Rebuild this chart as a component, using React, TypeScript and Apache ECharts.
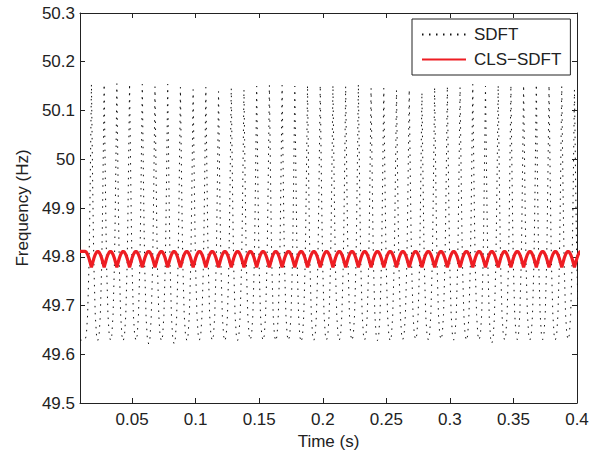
import { useEffect, useRef } from "react";
import * as echarts from "echarts";

// Times (s) of each oscillation cycle centre (SDFT peak / CLS-SDFT dip)
const cycleTimes = [
  0.018, 0.028, 0.038, 0.048, 0.058, 0.068, 0.078, 0.088, 0.098, 0.108,
  0.118, 0.128, 0.138, 0.148, 0.158, 0.168, 0.178, 0.188, 0.198, 0.208,
  0.218, 0.228, 0.238, 0.248, 0.258, 0.268, 0.278, 0.288, 0.298, 0.308,
  0.318, 0.328, 0.338, 0.348, 0.358, 0.368, 0.378, 0.388, 0.398,
];

// SDFT estimate: peak of each cycle (Hz)
const sdftPeaks = [
  50.154, 50.154, 50.155, 50.155, 50.154, 50.149, 50.154, 50.148, 50.143, 50.148,
  50.139, 50.146, 50.143, 50.15, 50.152, 50.152, 50.15, 50.152, 50.152, 50.152,
  50.15, 50.154, 50.146, 50.146, 50.142, 50.143, 50.137, 50.148, 50.15, 50.148,
  50.154, 50.15, 50.152, 50.152, 50.152, 50.154, 50.152, 50.15, 50.143,
];
// SDFT estimate: troughs between cycles (Hz)
const sdftTroughs = [
  49.629, 49.628, 49.628, 49.627, 49.628, 49.621, 49.627, 49.621, 49.628, 49.629,
  49.628, 49.627, 49.628, 49.629, 49.628, 49.627, 49.628, 49.625, 49.628, 49.629,
  49.628, 49.628, 49.629, 49.628, 49.627, 49.63, 49.63, 49.629, 49.63, 49.629,
  49.628, 49.629, 49.622, 49.629, 49.63, 49.629, 49.63, 49.629, 49.63, 49.63,
];
// Shape of one SDFT cycle (time offset, relative level)
const sdftShapeOffsets = [-0.005, -0.004, -0.003, -0.002, -0.0015, -0.001, -0.0005, 0, 0.0005, 0.001, 0.0015, 0.002, 0.003, 0.004];
const sdftShapeLevels = [0, 0.02, 0.1, 0.28, 0.42, 0.6, 0.8, 1, 0.8, 0.6, 0.42, 0.28, 0.1, 0.02];

// CLS-SDFT estimate: upper and lower level of each cycle (Hz)
const clsPeaks = [
  49.811, 49.811, 49.811, 49.811, 49.811, 49.811, 49.811, 49.811, 49.811, 49.811,
  49.811, 49.811, 49.811, 49.811, 49.811, 49.811, 49.811, 49.811, 49.811, 49.811,
  49.811, 49.811, 49.811, 49.811, 49.811, 49.811, 49.811, 49.811, 49.811, 49.811,
  49.811, 49.811, 49.811, 49.811, 49.811, 49.811, 49.811, 49.811, 49.811,
];
const clsTroughs = [
  49.778, 49.778, 49.778, 49.778, 49.778, 49.778, 49.778, 49.778, 49.778, 49.778,
  49.778, 49.778, 49.778, 49.778, 49.778, 49.778, 49.778, 49.778, 49.778, 49.778,
  49.778, 49.778, 49.778, 49.778, 49.778, 49.778, 49.778, 49.778, 49.778, 49.778,
  49.778, 49.778, 49.778, 49.778, 49.778, 49.778, 49.778, 49.778, 49.778,
];
const clsShapeOffsets = [-0.005, -0.004, -0.003, -0.002, -0.001, 0, 0.001, 0.002, 0.003, 0.004];
const clsShapeLevels = [1, 0.95, 0.81, 0.59, 0.31, 0, 0.31, 0.59, 0.81, 0.95];

const xTicks = [0.05, 0.1, 0.15, 0.2, 0.25, 0.3, 0.35, 0.4];
const xMin = 0.009;
const xMax = 0.4;
const yMin = 49.5;
const yMax = 50.3;
const yStep = 0.1;

const seriesNames = ["SDFT", "CLS\u2212SDFT"];
const axisTitles = { x: "Time (s)", y: "Frequency (Hz)" };

function buildSdft(): [number, number][] {
  const out: [number, number][] = [[xMin, sdftTroughs[0]]];
  cycleTimes.forEach((t, k) => {
    sdftShapeOffsets.forEach((o, i) => {
      const base = o < 0 ? sdftTroughs[k] : sdftTroughs[k + 1];
      out.push([t + o, base + sdftShapeLevels[i] * (sdftPeaks[k] - base)]);
    });
  });
  const last = cycleTimes.length - 1;
  out.push([cycleTimes[last] + 0.005, sdftTroughs[last + 1]]);
  return out;
}

function buildCls(): [number, number][] {
  const out: [number, number][] = [[xMin, clsPeaks[0]]];
  cycleTimes.forEach((t, k) => {
    clsShapeOffsets.forEach((o, i) => {
      out.push([t + o, clsTroughs[k] + clsShapeLevels[i] * (clsPeaks[k] - clsTroughs[k])]);
    });
  });
  const last = cycleTimes.length - 1;
  out.push([cycleTimes[last] + 0.005, clsPeaks[last]]);
  return out;
}

const FONT = "'Liberation Sans', Arial, Helvetica, sans-serif";
const INK = "#222";

export default function App() {
  const ref = useRef<HTMLDivElement>(null);
  useEffect(() => {
    document.body.style.margin = "0";
    if (!ref.current) return;
    const chart = echarts.init(ref.current, null, { renderer: "svg" });
    const axisLine = { show: true, onZero: false, lineStyle: { color: INK, width: 1 } };
    const tick = { show: true, inside: true, length: 5, lineStyle: { color: INK, width: 1 } };
    chart.setOption({
      animation: false,
      backgroundColor: "#fff",
      grid: { left: 80, right: 37, top: 13, bottom: 51, containLabel: false, outerBoundsMode: "none" },
      legend: {
        left: 412,
        top: 19,
        orient: "vertical",
        padding: [7, 9, 7, 9],
        itemGap: 8,
        itemWidth: 44,
        itemHeight: 14,
        borderColor: INK,
        borderWidth: 1,
        borderRadius: 0,
        backgroundColor: "#fff",
        itemStyle: { opacity: 0, borderWidth: 0 },
        textStyle: { fontSize: 17, color: INK, fontFamily: FONT, padding: [0, 0, 0, 3] },
        data: seriesNames,
      },
      xAxis: [
        {
          type: "value",
          min: xMin,
          max: xMax,
          position: "bottom",
          axisLine,
          axisTick: { ...tick, customValues: xTicks },
          axisLabel: {
            customValues: xTicks,
            color: INK,
            fontSize: 17,
            fontFamily: FONT,
            margin: 8,
            formatter: (v: number) => String(v),
          },
          splitLine: { show: false },
          name: axisTitles.x,
          nameLocation: "middle",
          nameGap: 26,
          nameTextStyle: { fontSize: 17, color: INK, fontFamily: FONT },
        },
        {
          type: "value",
          min: xMin,
          max: xMax,
          position: "top",
          axisLine,
          axisTick: { ...tick, customValues: xTicks },
          axisLabel: { show: false },
          splitLine: { show: false },
        },
      ],
      yAxis: [
        {
          type: "value",
          min: yMin,
          max: yMax,
          interval: yStep,
          position: "left",
          axisLine,
          axisTick: tick,
          axisLabel: {
            color: INK,
            fontSize: 17,
            fontFamily: FONT,
            margin: 5,
            formatter: (v: number) => String(Number(v.toFixed(1))),
          },
          splitLine: { show: false },
          name: axisTitles.y,
          nameLocation: "middle",
          nameGap: 39,
          nameRotate: 90,
          nameTextStyle: { fontSize: 17, color: INK, fontFamily: FONT },
        },
        {
          type: "value",
          min: yMin,
          max: yMax,
          interval: yStep,
          position: "right",
          axisLine,
          axisTick: tick,
          axisLabel: { show: false },
          splitLine: { show: false },
        },
      ],
      series: [
        {
          name: seriesNames[0],
          type: "line",
          xAxisIndex: 0,
          yAxisIndex: 0,
          data: buildSdft(),
          symbol: "none",
          showSymbol: false,
          clip: true,
          z: 2,
          itemStyle: { color: "#000" },
          lineStyle: { color: "#111", width: 1, type: [1.5, 5.5] },
        },
        {
          name: seriesNames[1],
          type: "line",
          xAxisIndex: 0,
          yAxisIndex: 0,
          data: buildCls(),
          symbol: "none",
          showSymbol: false,
          clip: true,
          z: 3,
          itemStyle: { color: "#ee1d23" },
          lineStyle: { color: "#ee1d23", width: 3.2 },
        },
      ],
    });
    return () => chart.dispose();
  }, []);
  return <div ref={ref} style={{ width: 614, height: 454, background: "#fff" }} />;
}
